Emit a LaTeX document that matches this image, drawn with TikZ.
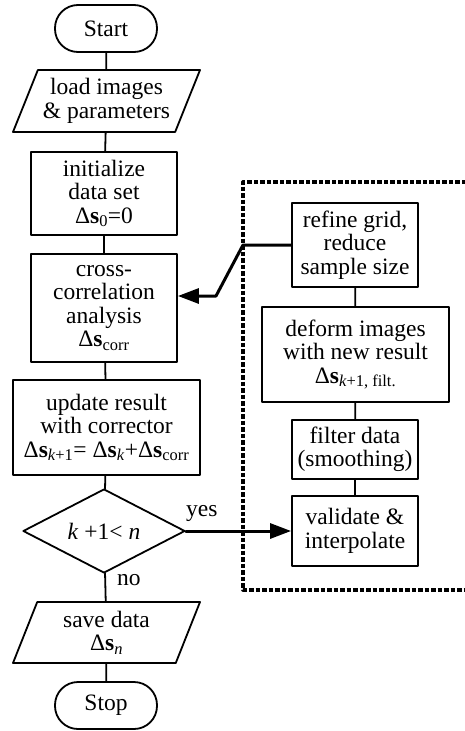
\documentclass[tikz,border=0pt]{standalone}
\usepackage{fontspec}
\setmainfont{Liberation Serif}
\usetikzlibrary{shapes.geometric,arrows.meta}

\newcommand{\dss}[1]{\textup{Δ}\textbf{s}\textsubscript{#1}}

\begin{document}
\begin{tikzpicture}[x=1pt, y=-1pt, line cap=round, line join=round,
    every node/.style={font=\fontsize{23.5}{23.5}\selectfont, align=center, inner sep=2pt},
    stepbox/.style={draw, line width=1.8pt, rectangle},
    iobox/.style={draw, line width=1.8pt, trapezium, trapezium left angle=63,
        trapezium right angle=117, trapezium stretches body},
    endbox/.style={draw, line width=1.8pt, rectangle, rounded corners=23pt,
        minimum width=102, minimum height=47},
    flow/.style={line width=1.8pt},
    back/.style={line width=3pt, -{Triangle[length=21pt,width=15pt]}}]

\useasboundingbox (0,0) rectangle (464,731);

% main column
\node[endbox] (start) at (106,28.5) {Start};
\node[iobox, minimum width=187, minimum height=62] (load) at (106.5,101)
    {load images\\\& parameters};
\node[stepbox, minimum width=146, minimum height=83] (init) at (104,193.5)
    {initialize\\data set\\\dss{0}=0};
\node[stepbox, minimum width=146, minimum height=108] (cross) at (104,308)
    {cross-\\correlation\\analysis\\\dss{corr}};
\node[stepbox, minimum width=187, minimum height=95] (update) at (106.5,427.5)
    {update result\\with corrector\\\dss{\textit{k}+1}= \dss{\textit{k}}+\dss{corr}};
\node[draw, line width=1.8pt, diamond, aspect=1.93, inner sep=0pt,
    minimum width=162, minimum height=84] (check) at (104,531)
    {\textit{k} +1< \textit{n}};
\node[iobox, minimum width=187, minimum height=61] (save) at (106.5,632.5)
    {save data\\\dss{\textit{n}}};
\node[endbox] (stop) at (106,705.5) {Stop};

% inner loop
\node[stepbox, minimum width=126, minimum height=84] (refine) at (355,245)
    {refine grid,\\reduce\\sample size};
\node[stepbox, minimum width=187, minimum height=95] (deform) at (355.5,354.5)
    {deform images\\with new result\\\dss{\textit{k}+1, filt.}};
\node[stepbox, minimum width=126, minimum height=59] (filter) at (355,449.5)
    {filter data\\(smoothing)};
\node[stepbox, minimum width=126, minimum height=70] (valid) at (355,531)
    {validate \&\\interpolate};

\draw[line width=3.2pt, dash pattern=on 4.5pt off 2pt, line cap=butt]
    (466,182) -- (243,182) -- (243,590) -- (466,590);

\foreach \a/\b in {start/load, load/init, init/cross, cross/update,
    update/check, check/save, save/stop, refine/deform, deform/filter, filter/valid}
    \draw[flow] (\a) -- (\b);

\coordinate (kinka) at (243,245);
\coordinate (kinkb) at (216,296);
\draw[back] (refine.west) -- (kinka) -- (kinkb) -- (kinkb -| cross.east);
\draw[back] (check.east) -- (valid.west);

\node[anchor=south west, inner sep=0pt] (yes) at (186,522) {yes};
\node[anchor=north west, inner sep=0pt] (no) at (117,574) {no};
\end{tikzpicture}
\end{document}
